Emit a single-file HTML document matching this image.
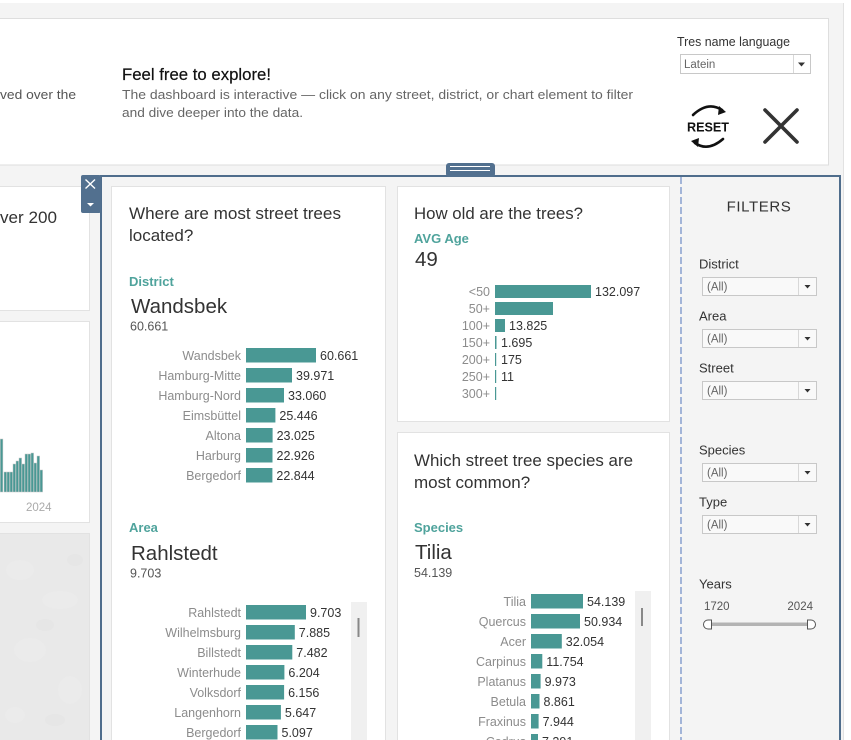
<!DOCTYPE html>
<html><head><meta charset="utf-8">
<style>
html,body{margin:0;padding:0;background:#f4f4f4;overflow:hidden;}
svg{display:block;font-family:"Liberation Sans",sans-serif;}
</style></head><body>
<svg width="851" height="740" viewBox="0 0 851 740" xmlns="http://www.w3.org/2000/svg">
<rect width="851" height="740" fill="#f4f4f4"/>
<rect x="0" y="0" width="851" height="3" fill="#fff"/>
<rect x="844" y="3" width="7" height="737" fill="#fff"/>
<line x1="843.5" y1="3" x2="843.5" y2="740" stroke="#e2e2e2"/>

<!-- Header card -->
<rect x="-2" y="18.5" width="830.5" height="146.5" fill="#fff" stroke="#dedede"/>
<text x="0" y="99" font-size="13" fill="#555" textLength="76" lengthAdjust="spacingAndGlyphs">ved over the</text>
<text x="122" y="80" font-size="16.5" fill="#111" stroke="#111" stroke-width="0.2" textLength="149" lengthAdjust="spacingAndGlyphs">Feel free to explore!</text>
<text x="122" y="99" font-size="13" fill="#666" textLength="511" lengthAdjust="spacingAndGlyphs">The dashboard is interactive — click on any street, district, or chart element to filter</text>
<text x="122" y="117" font-size="13" fill="#666" textLength="181" lengthAdjust="spacingAndGlyphs">and dive deeper into the data.</text>

<text x="677" y="46" font-size="12.5" fill="#333" textLength="113" lengthAdjust="spacingAndGlyphs">Tres name language</text>
<rect x="680.5" y="54.5" width="130" height="19" fill="#fff" stroke="#c8c8c8"/>
<line x1="793.5" y1="55" x2="793.5" y2="73" stroke="#d8d8d8"/>
<path d="M798 62.5 L805 62.5 L801.5 66.5 Z" fill="#333"/>
<text x="684" y="68" font-size="11.5" fill="#666">Latein</text>

<!-- RESET icon -->
<path d="M693 115 Q708 101 722 110" fill="none" stroke="#111" stroke-width="2.6" stroke-linecap="round"/>
<path d="M719 106 L726 112 L718 115 Z" fill="#111"/>
<path d="M723 139 Q708 152 695 143" fill="none" stroke="#111" stroke-width="2.6" stroke-linecap="round"/>
<path d="M698 147 L691 141 L699 138 Z" fill="#111"/>
<text x="708" y="131.5" font-size="13" font-weight="bold" fill="#111" text-anchor="middle" textLength="42" lengthAdjust="spacingAndGlyphs">RESET</text>
<!-- X icon -->
<path d="M765 110 L797 142 M797 110 L765 142" stroke="#333" stroke-width="3.6" stroke-linecap="round"/>

<!-- Left partial cards -->
<rect x="-2" y="186.5" width="91.5" height="124" fill="#fff" stroke="#e2e2e2"/>
<text x="0" y="223" font-size="16.5" fill="#333" textLength="57" lengthAdjust="spacingAndGlyphs">ver 200</text>

<rect x="-2" y="321.5" width="91.5" height="201" fill="#fff" stroke="#e2e2e2"/>
<g fill="#499894" stroke="#c8c8c8" stroke-width="0.5">
<rect x="0.3" y="439" width="2.6" height="53"/>
<rect x="4" y="472" width="2.6" height="20"/>
<rect x="7" y="472" width="2.6" height="20"/>
<rect x="10" y="472" width="2.6" height="20"/>
<rect x="13" y="464" width="2.6" height="28"/>
<rect x="16" y="461" width="2.6" height="31"/>
<rect x="19" y="458" width="2.6" height="34"/>
<rect x="22" y="464" width="2.6" height="28"/>
<rect x="25" y="454" width="2.6" height="38"/>
<rect x="28" y="454" width="2.6" height="38"/>
<rect x="31" y="453" width="2.6" height="39"/>
<rect x="34" y="463" width="2.6" height="29"/>
<rect x="37" y="456" width="2.6" height="36"/>
<rect x="40" y="470" width="2.6" height="22"/>
</g>
<text x="26" y="511" font-size="11.5" fill="#aaa">2024</text>

<rect x="-2" y="533.5" width="91.5" height="210" fill="#e9e9e9" stroke="#e2e2e2"/>
<g fill="#ebebeb">
<ellipse cx="20" cy="570" rx="14" ry="10"/>
<ellipse cx="60" cy="600" rx="18" ry="9"/>
<ellipse cx="30" cy="650" rx="16" ry="12"/>
<ellipse cx="70" cy="690" rx="12" ry="14"/>
<ellipse cx="15" cy="715" rx="10" ry="8"/>
</g>
<g fill="#e6e6e6">
<ellipse cx="75" cy="560" rx="8" ry="6"/>
<ellipse cx="45" cy="625" rx="9" ry="6"/>
<ellipse cx="55" cy="720" rx="10" ry="6"/>
</g>

<!-- Selected container -->
<path d="M101 742 L101 176 L840 176 L840 742" fill="none" stroke="#4f6d8c" stroke-width="2"/>
<rect x="446" y="163" width="49" height="14" rx="3" fill="#52708f"/>
<line x1="450" y1="166.5" x2="490" y2="166.5" stroke="#fff" stroke-width="1"/>
<line x1="450" y1="170.5" x2="490" y2="170.5" stroke="#fff" stroke-width="1"/>
<rect x="81" y="175" width="20" height="38" rx="2" fill="#52708f"/>
<path d="M85.5 179.5 L95 188.5 M95 179.5 L85.5 188.5" stroke="#fff" stroke-width="1.4"/>
<path d="M87 203 L94 203 L90.5 206.5 Z" fill="#fff"/>

<!-- Card 1 -->
<rect x="111.5" y="186.5" width="274" height="560" fill="#fff" stroke="#e2e2e2"/>
<text x="129" y="219" font-size="17" fill="#333" textLength="212" lengthAdjust="spacingAndGlyphs">Where are most street trees</text>
<text x="129" y="241" font-size="17" fill="#333">located?</text>
<text x="129" y="286" font-size="13" font-weight="bold" fill="#4fa39c">District</text>
<text x="131" y="313" font-size="20.5" fill="#333">Wandsbek</text>
<text x="130" y="330.5" font-size="12.5" fill="#555">60.661</text>
<g font-size="12.5">
<g fill="#8c8c8c" text-anchor="end">
<text x="241" y="360">Wandsbek</text>
<text x="241" y="380">Hamburg-Mitte</text>
<text x="241" y="400">Hamburg-Nord</text>
<text x="241" y="420">Eimsbüttel</text>
<text x="241" y="440">Altona</text>
<text x="241" y="460">Harburg</text>
<text x="241" y="480">Bergedorf</text>
</g>
<g fill="#499894">
<rect x="246" y="348" width="70" height="14.5"/>
<rect x="246" y="368" width="46" height="14.5"/>
<rect x="246" y="388" width="38" height="14.5"/>
<rect x="246" y="408" width="29.4" height="14.5"/>
<rect x="246" y="428" width="26.6" height="14.5"/>
<rect x="246" y="448" width="26.5" height="14.5"/>
<rect x="246" y="468" width="26.4" height="14.5"/>
</g>
<g fill="#333">
<text x="320" y="360">60.661</text>
<text x="296" y="380">39.971</text>
<text x="288" y="400">33.060</text>
<text x="279.4" y="420">25.446</text>
<text x="276.6" y="440">23.025</text>
<text x="276.5" y="460">22.926</text>
<text x="276.4" y="480">22.844</text>
</g>
</g>

<text x="129" y="532" font-size="13" font-weight="bold" fill="#4fa39c">Area</text>
<text x="131" y="560" font-size="20.5" fill="#333">Rahlstedt</text>
<text x="130" y="577.5" font-size="12.5" fill="#555">9.703</text>
<rect x="351" y="602" width="16" height="140" fill="#f0f0f0"/>
<rect x="357.5" y="618" width="2" height="19" fill="#888"/>
<g font-size="12.5">
<g fill="#8c8c8c" text-anchor="end">
<text x="241" y="617">Rahlstedt</text>
<text x="241" y="637">Wilhelmsburg</text>
<text x="241" y="657">Billstedt</text>
<text x="241" y="677">Winterhude</text>
<text x="241" y="697">Volksdorf</text>
<text x="241" y="717">Langenhorn</text>
<text x="241" y="737">Bergedorf</text>
</g>
<g fill="#499894">
<rect x="246" y="605" width="60" height="14.5"/>
<rect x="246" y="625" width="48.8" height="14.5"/>
<rect x="246" y="645" width="46.3" height="14.5"/>
<rect x="246" y="665" width="38.4" height="14.5"/>
<rect x="246" y="685" width="38.1" height="14.5"/>
<rect x="246" y="705" width="34.9" height="14.5"/>
<rect x="246" y="725" width="31.5" height="14.5"/>
</g>
<g fill="#333">
<text x="310" y="617">9.703</text>
<text x="298.8" y="637">7.885</text>
<text x="296.3" y="657">7.482</text>
<text x="288.4" y="677">6.204</text>
<text x="288.1" y="697">6.156</text>
<text x="284.9" y="717">5.647</text>
<text x="281.5" y="737">5.097</text>
</g>
</g>

<!-- Card 2 -->
<rect x="397.5" y="186.5" width="272" height="235" fill="#fff" stroke="#e2e2e2"/>
<text x="414" y="219" font-size="17" fill="#333" textLength="169" lengthAdjust="spacingAndGlyphs">How old are the trees?</text>
<text x="414" y="243" font-size="13" font-weight="bold" fill="#4fa39c">AVG Age</text>
<text x="415" y="266" font-size="20.5" fill="#333">49</text>
<g font-size="12.5">
<g fill="#8c8c8c" text-anchor="end">
<text x="490" y="296">&lt;50</text>
<text x="490" y="313">50+</text>
<text x="490" y="330">100+</text>
<text x="490" y="347">150+</text>
<text x="490" y="364">200+</text>
<text x="490" y="381">250+</text>
<text x="490" y="398">300+</text>
</g>
<g fill="#499894">
<rect x="495" y="285" width="96" height="13"/>
<rect x="495" y="302" width="58" height="13"/>
<rect x="495" y="319" width="10" height="13"/>
<rect x="495" y="336" width="1.5" height="13"/>
<rect x="495" y="353" width="1.2" height="13"/>
<rect x="495" y="370" width="1.2" height="13"/>
<rect x="495" y="387" width="1.2" height="13"/>
</g>
<g fill="#333">
<text x="595" y="296">132.097</text>
<text x="509" y="330">13.825</text>
<text x="501" y="347">1.695</text>
<text x="501" y="364">175</text>
<text x="501" y="381">11</text>
</g>
</g>

<!-- Card 3 -->
<rect x="397.5" y="432.5" width="272" height="314" fill="#fff" stroke="#e2e2e2"/>
<text x="414" y="466" font-size="17" fill="#333" textLength="219" lengthAdjust="spacingAndGlyphs">Which street tree species are</text>
<text x="414" y="488" font-size="17" fill="#333">most common?</text>
<text x="414" y="532" font-size="13" font-weight="bold" fill="#4fa39c">Species</text>
<text x="415" y="559" font-size="20.5" fill="#333">Tilia</text>
<text x="414" y="577" font-size="12.5" fill="#555">54.139</text>
<rect x="635" y="591" width="16" height="151" fill="#f0f0f0"/>
<rect x="641" y="608" width="2" height="18" fill="#888"/>
<g font-size="12.5">
<g fill="#8c8c8c" text-anchor="end">
<text x="526" y="606">Tilia</text>
<text x="526" y="626">Quercus</text>
<text x="526" y="646">Acer</text>
<text x="526" y="666">Carpinus</text>
<text x="526" y="686">Platanus</text>
<text x="526" y="706">Betula</text>
<text x="526" y="726">Fraxinus</text>
<text x="526" y="746">Cedrus</text>
</g>
<g fill="#499894">
<rect x="531" y="594" width="52" height="14.5"/>
<rect x="531" y="614" width="49" height="14.5"/>
<rect x="531" y="634" width="30.8" height="14.5"/>
<rect x="531" y="654" width="11.3" height="14.5"/>
<rect x="531" y="674" width="9.6" height="14.5"/>
<rect x="531" y="694" width="8.5" height="14.5"/>
<rect x="531" y="714" width="7.6" height="14.5"/>
<rect x="531" y="734" width="7" height="14.5"/>
</g>
<g fill="#333">
<text x="587" y="606">54.139</text>
<text x="584" y="626">50.934</text>
<text x="565.8" y="646">32.054</text>
<text x="546.3" y="666">11.754</text>
<text x="544.6" y="686">9.973</text>
<text x="543.5" y="706">8.861</text>
<text x="542.6" y="726">7.944</text>
<text x="542" y="746">7.291</text>
</g>
</g>

<!-- Dashed divider -->
<line x1="681" y1="177" x2="681" y2="740" stroke="#a3b5d8" stroke-width="2" stroke-dasharray="7 3"/>

<!-- Filters -->
<text x="759" y="211.5" font-size="15" fill="#333" text-anchor="middle" letter-spacing="0.6">FILTERS</text>
<g font-size="13" fill="#333">
<text x="699" y="268.5">District</text>
<text x="699" y="320.5">Area</text>
<text x="699" y="372.5">Street</text>
<text x="699" y="454.5">Species</text>
<text x="699" y="506.5">Type</text>
<text x="699" y="588.5">Years</text>
</g>
<g fill="#f9f9f9" stroke="#c8c8c8">
<rect x="702.5" y="277.5" width="114" height="18"/>
<rect x="702.5" y="329.5" width="114" height="18"/>
<rect x="702.5" y="381.5" width="114" height="18"/>
<rect x="702.5" y="463.5" width="114" height="18"/>
<rect x="702.5" y="515.5" width="114" height="18"/>
</g>
<g stroke="#d8d8d8">
<line x1="798.5" y1="278" x2="798.5" y2="295"/>
<line x1="798.5" y1="330" x2="798.5" y2="347"/>
<line x1="798.5" y1="382" x2="798.5" y2="399"/>
<line x1="798.5" y1="464" x2="798.5" y2="481"/>
<line x1="798.5" y1="516" x2="798.5" y2="533"/>
</g>
<g fill="#333">
<path d="M804.5 285 L810.5 285 L807.5 288.5 Z"/>
<path d="M804.5 337 L810.5 337 L807.5 340.5 Z"/>
<path d="M804.5 389 L810.5 389 L807.5 392.5 Z"/>
<path d="M804.5 471 L810.5 471 L807.5 474.5 Z"/>
<path d="M804.5 523 L810.5 523 L807.5 526.5 Z"/>
</g>
<g font-size="11.5" fill="#666">
<text x="707" y="290.5">(All)</text>
<text x="707" y="342.5">(All)</text>
<text x="707" y="394.5">(All)</text>
<text x="707" y="476.5">(All)</text>
<text x="707" y="528.5">(All)</text>
</g>
<g font-size="11.5" fill="#555">
<text x="704" y="610">1720</text>
<text x="813" y="610" text-anchor="end">2024</text>
</g>
<rect x="709" y="622.5" width="99" height="3.5" fill="#b3b3b3"/>
<path d="M711.5 620 L708 620 A4.5 4.5 0 0 0 708 629 L711.5 629 Z" fill="#fff" stroke="#555" stroke-width="1"/>
<path d="M807.5 620 L811 620 A4.5 4.5 0 0 1 811 629 L807.5 629 Z" fill="#fff" stroke="#555" stroke-width="1"/>
</svg>
</body></html>
